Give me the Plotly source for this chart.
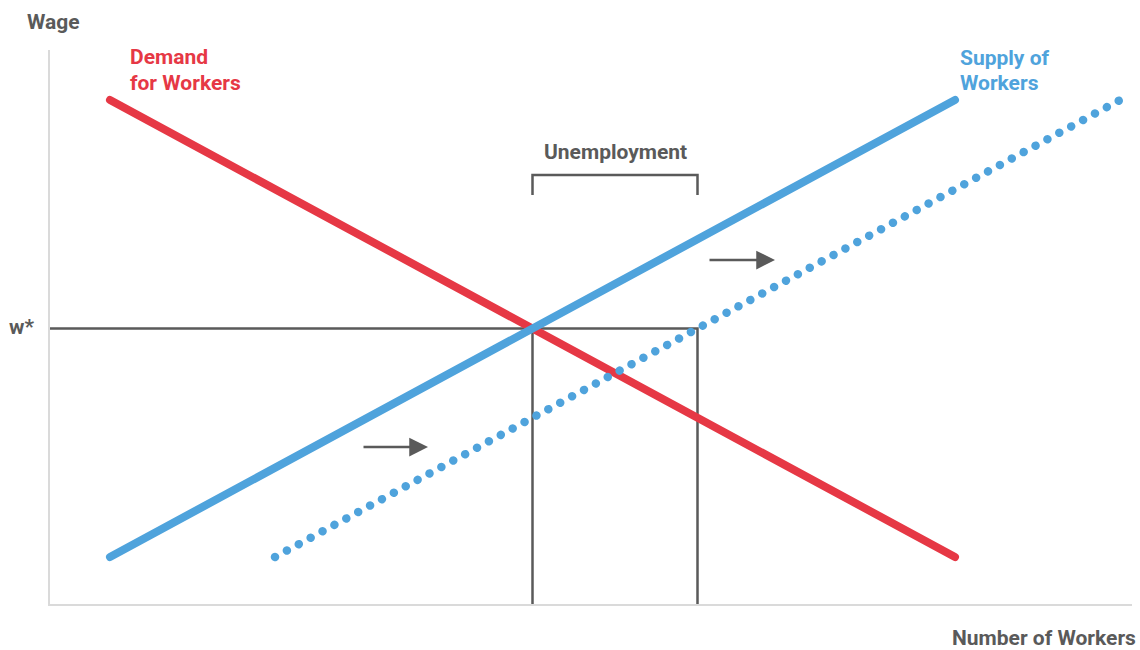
import plotly.graph_objects as go

# ---- data (quantity of workers, wage) ----
demand_q = [60, 905]
demand_w = [504, 47]
supply_q = [60, 905]
supply_w = [47, 504]
new_supply_q = [225, 1070]
new_supply_w = [47, 504]

w_star = 275.5
q_eq = 482.5          # demand = original supply
q_supply_new = 647.5  # new supply at w*

bracket_low = 409
bracket_high = 429

arrow1_q = [312, 378]
arrow1_w = 157
arrow2_q = [658, 725]
arrow2_w = 344

Q_MAX = 1082
W_MAX = 554

RED = "#e63845"
BLUE = "#4fa3dc"
GRAY = "#5a5a5a"
AXIS = "#dadada"
FONT = "Roboto, Liberation Sans, sans-serif"

fig = go.Figure()

# reference lines for w*, and quantities
fig.add_trace(go.Scatter(
    x=[0, q_supply_new, q_supply_new, None, q_eq, q_eq],
    y=[w_star, w_star, 0, None, w_star, 0],
    mode="lines", line=dict(color=GRAY, width=2.5), hoverinfo="skip"))

# bracket
fig.add_trace(go.Scatter(
    x=[q_eq, q_eq, q_supply_new, q_supply_new],
    y=[bracket_low, bracket_high, bracket_high, bracket_low],
    mode="lines", line=dict(color=GRAY, width=2.5), hoverinfo="skip"))

# demand
fig.add_trace(go.Scatter(x=demand_q, y=demand_w, mode="lines",
                         line=dict(color=RED, width=8), hoverinfo="skip"))
# supply
fig.add_trace(go.Scatter(x=supply_q, y=supply_w, mode="lines",
                         line=dict(color=BLUE, width=8), hoverinfo="skip"))
# new (shifted) supply, dotted
fig.add_trace(go.Scatter(x=new_supply_q, y=new_supply_w, mode="lines",
                         line=dict(color=BLUE, width=8.5, dash="6px,7.5px"),
                         hoverinfo="skip"))

ann = []
def label(text, x, y, color, size=21, xanchor="left", yanchor="middle", ref="data"):
    if ref == "paper":
        x, y, xr, yr = x / Q_MAX, y / W_MAX, "paper", "paper"
    else:
        xr, yr = "x", "y"
    ann.append(dict(x=x, y=y, xref=xr, yref=yr, text=text, showarrow=False,
                    xanchor=xanchor, yanchor=yanchor,
                    font=dict(family=FONT, size=size, color=color, weight="bold")))

label("Demand", 78, 547, RED)
label("for Workers", 78, 521, RED)
label("Supply of", 908, 546, BLUE)
label("Workers", 908, 521, BLUE)
label("Unemployment", (q_eq + q_supply_new) / 2, 452, GRAY, xanchor="center")
label("Wage", -25, 582, GRAY, ref="paper")
label("w*", -14, 277, GRAY, xanchor="right", ref="paper")
label("Number of Workers", 1088, -34, GRAY, xanchor="right", ref="paper")

for q, w in [(arrow1_q, arrow1_w), (arrow2_q, arrow2_w)]:
    ann.append(dict(x=q[1], y=w, ax=q[0], ay=w, xref="x", yref="y",
                    axref="x", ayref="y", text="", showarrow=True,
                    arrowhead=2, arrowsize=1.5, arrowwidth=2.5,
                    arrowcolor=GRAY, standoff=0, startstandoff=0))

fig.update_layout(
    width=1140, height=650,
    margin=dict(l=50, r=8, t=50, b=46),
    paper_bgcolor="white", plot_bgcolor="white",
    showlegend=False,
    annotations=ann,
    xaxis=dict(range=[0, Q_MAX], showgrid=False, zeroline=False, showticklabels=False,
               ticks="", showline=True, linecolor=AXIS, linewidth=2, fixedrange=True),
    yaxis=dict(range=[0, W_MAX], showgrid=False, zeroline=False, showticklabels=False,
               ticks="", showline=True, linecolor=AXIS, linewidth=2, fixedrange=True),
)

post = """
document.body.style.margin = '0';
var gd = document.getElementById('{plot_id}');
function fixDots(){
  var traces = gd.querySelectorAll('.scatterlayer .trace');
  if (traces.length > 4) {
    traces[4].querySelectorAll('path.js-line').forEach(function(p){
      p.style.strokeLinecap = 'round';
      p.style.strokeDasharray = '0.01px,13.5px';
    });
  }
  var solid = [2, 3];
  solid.forEach(function(i){
    if (traces.length > i) {
      traces[i].querySelectorAll('path.js-line').forEach(function(p){
        p.style.strokeLinecap = 'round';
      });
    }
  });
}
fixDots();
setTimeout(fixDots, 50);
if (gd.on) { gd.on('plotly_afterplot', fixDots); }
"""

fig.write_html("out.html", config={"displayModeBar": False}, post_script=post)
